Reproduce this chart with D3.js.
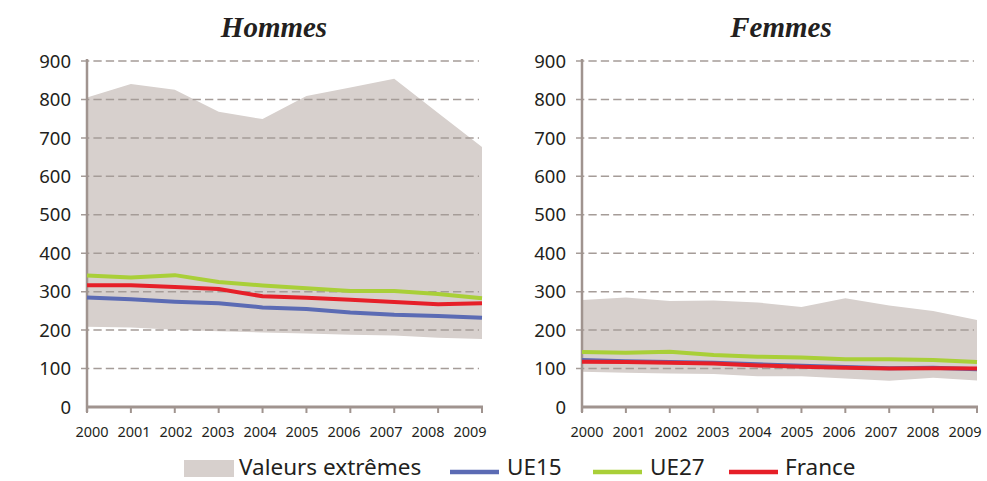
<!DOCTYPE html>
<html>
<head>
<meta charset="utf-8">
<script src="https://cdn.jsdelivr.net/npm/d3@7"></script>
<style>
  html, body { margin: 0; padding: 0; background: #ffffff; }
  svg { display: block; }
</style>
</head>
<body>
<svg id="chart" width="987" height="481"></svg>
<script>
// ---- Data ----
const years = [2000, 2001, 2002, 2003, 2004, 2005, 2006, 2007, 2008, 2009];
const yTicks = [0, 100, 200, 300, 400, 500, 600, 700, 800, 900];

// Hommes
const hommesMax  = [805, 840, 825, 768, 749, 809, 831, 854, 765, 676];
const hommesMin  = [209, 207, 201, 197, 194, 191, 188, 186, 180, 177];
const hommesUE15 = [285, 280, 274, 270, 259, 255, 246, 240, 237, 232];
const hommesUE27 = [342, 337, 343, 325, 316, 309, 302, 302, 294, 283];
const hommesFR   = [317, 317, 312, 307, 288, 284, 279, 273, 267, 270];

// Femmes
const femmesMax  = [278, 285, 276, 277, 272, 260, 283, 264, 250, 226];
const femmesMin  = [92, 89, 87, 86, 80, 80, 74, 68, 76, 69];
const femmesUE15 = [122, 119, 117, 115, 111, 107, 104, 101, 102, 98];
const femmesUE27 = [143, 141, 144, 135, 131, 129, 124, 124, 122, 117];
const femmesFR   = [118, 117, 115, 113, 108, 105, 102, 100, 101, 100];

const titles = ["Hommes", "Femmes"];
const legendLabels = ["Valeurs extrêmes", "UE15", "UE27", "France"];

// ---- Styles ----
const C = {
  band: "#d7d0cd",
  grid: "#a59c98",
  axis: "#a0948f",
  ue15: "#5b6bb4",
  ue27: "#a9cf38",
  fr:   "#e61f28",
  text: "#231f20"
};

const svg = d3.select("#chart");

const panels = [
  { title: titles[0], max: hommesMax, min: hommesMin, ue15: hommesUE15, ue27: hommesUE27, fr: hommesFR, x0: 87, x1: 482, titleX: 274 },
  { title: titles[1], max: femmesMax, min: femmesMin, ue15: femmesUE15, ue27: femmesUE27, fr: femmesFR, x0: 582, x1: 977, titleX: 781 }
];

const y = d3.scaleLinear().domain([0, 900]).range([407, 61]);

panels.forEach(p => {
  const g = svg.append("g");
  const x = d3.scaleLinear().domain([2000, 2009]).range([p.x0, p.x1]);
  const xl = d3.scalePoint().domain(years).range([p.x0 + 5, p.x1 - 12]);

  // band
  const area = d3.area()
    .x((d, i) => x(years[i]))
    .y0((d, i) => y(p.min[i]))
    .y1((d, i) => y(p.max[i]));
  g.append("path").datum(p.max).attr("d", area).attr("fill", C.band);

  // gridlines
  g.selectAll("line.grid").data(yTicks.filter(t => t > 0)).enter().append("line")
    .attr("x1", p.x0 - 6).attr("x2", p.x1 - 3)
    .attr("y1", d => y(d)).attr("y2", d => y(d))
    .attr("stroke", C.grid).attr("stroke-width", 1.5)
    .attr("stroke-dasharray", "8.3,4.1");

  // y labels
  g.selectAll("text.ylab").data(yTicks).enter().append("text")
    .attr("x", p.x0 - 16).attr("y", d => y(d))
    .attr("dy", "0.36em")
    .attr("text-anchor", "end")
    .attr("font-family", "'Noto Sans', 'Open Sans', sans-serif")
    .attr("font-size", 18.5)
    .attr("fill", C.text)
    .text(d => d);

  // axes lines
  g.append("line").attr("x1", p.x0).attr("x2", p.x0).attr("y1", y(900) - 2).attr("y2", y(0) + 5)
    .attr("stroke", C.axis).attr("stroke-width", 2.5);
  g.append("line").attr("x1", p.x0 - 1).attr("x2", p.x1 + 1).attr("y1", y(0)).attr("y2", y(0))
    .attr("stroke", C.axis).attr("stroke-width", 3);
  g.selectAll("line.xt").data(years).enter().append("line")
    .attr("x1", d => x(d)).attr("x2", d => x(d))
    .attr("y1", y(0)).attr("y2", y(0) + 6)
    .attr("stroke", C.axis).attr("stroke-width", 2);

  // x labels
  g.selectAll("text.xlab").data(years).enter().append("text")
    .attr("x", d => xl(d)).attr("y", 437)
    .attr("text-anchor", "middle")
    .attr("font-family", "'Noto Sans', 'Open Sans', sans-serif")
    .attr("font-size", 14.5)
    .attr("fill", C.text)
    .text(d => d);

  // lines
  const line = d3.line().x((d, i) => x(years[i])).y(d => y(d));
  [["ue15", C.ue15], ["ue27", C.ue27], ["fr", C.fr]].forEach(([k, col]) => {
    g.append("path").datum(p[k]).attr("d", line)
      .attr("fill", "none").attr("stroke", col).attr("stroke-width", 4)
      .attr("stroke-linejoin", "round");
  });

  // title
  g.append("text").attr("x", p.titleX).attr("y", 37)
    .attr("text-anchor", "middle")
    .attr("font-family", "'Liberation Serif', 'DejaVu Serif', serif")
    .attr("font-weight", "bold").attr("font-style", "italic")
    .attr("font-size", 29)
    .attr("fill", C.text)
    .text(p.title);
});

// ---- Legend ----
const legendItems = [
  { label: legendLabels[0], type: "rect", color: C.band, sx: 184, tx: 239 },
  { label: legendLabels[1], type: "line", color: C.ue15, sx: 450, tx: 507 },
  { label: legendLabels[2], type: "line", color: C.ue27, sx: 593, tx: 650 },
  { label: legendLabels[3], type: "line", color: C.fr,   sx: 729, tx: 785 }
];
const lg = svg.append("g");
legendItems.forEach(it => {
  if (it.type === "rect") {
    lg.append("rect").attr("x", it.sx).attr("y", 460).attr("width", 50).attr("height", 17).attr("fill", it.color);
  } else {
    lg.append("line").attr("x1", it.sx).attr("x2", it.sx + 49).attr("y1", 472).attr("y2", 472)
      .attr("stroke", it.color).attr("stroke-width", 4.5);
  }
  lg.append("text").attr("x", it.tx).attr("y", 474.5)
    .attr("font-family", "'Noto Sans', 'Open Sans', sans-serif")
    .attr("font-size", 22.5)
    .attr("fill", C.text)
    .text(it.label);
});
</script>
</body>
</html>
